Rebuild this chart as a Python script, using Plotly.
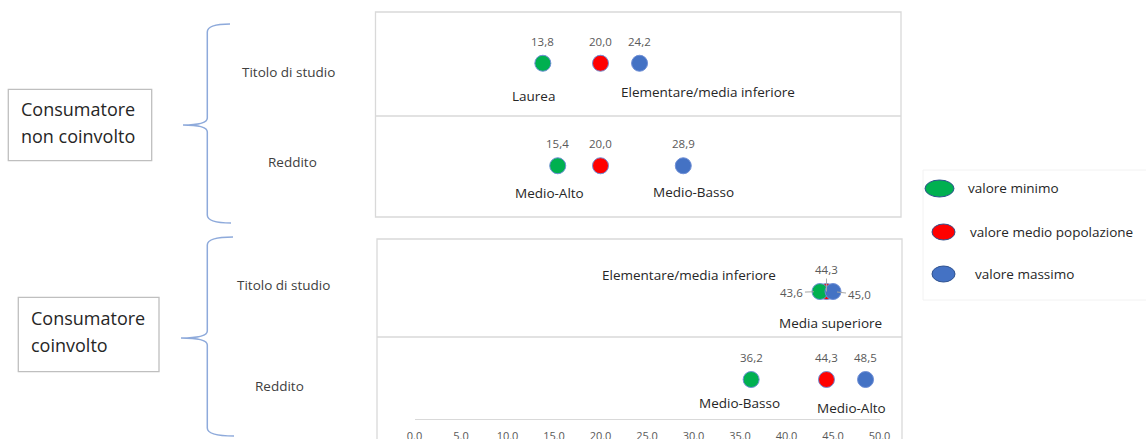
import plotly.graph_objects as go

W, H = 1146, 439

# --- data -------------------------------------------------------------
groups = [["Consumatore", "non coinvolto"], ["Consumatore", "coinvolto"]]
rows = ["Titolo di studio", "Reddito"]
series = ["valore minimo", "valore medio popolazione", "valore massimo"]
colors = ["#00b050", "#ff0000", "#4472c4"]

# consumatore non coinvolto
nc_min = [13.8, 15.4]
nc_mean = [20.0, 20.0]
nc_max = [24.2, 28.9]
nc_min_lab = ["Laurea", "Medio-Alto"]
nc_max_lab = ["Elementare/media inferiore", "Medio-Basso"]

# consumatore coinvolto
c_min = [43.6, 36.2]
c_mean = [44.3, 44.3]
c_max = [45.0, 48.5]
c_min_lab = ["Elementare/media inferiore", "Medio-Basso"]
c_max_lab = ["Media superiore", "Medio-Alto"]

x_ticks = [0.0, 5.0, 10.0, 15.0, 20.0, 25.0, 30.0, 35.0, 40.0, 45.0, 50.0]

FONT = "Open Sans"
DARK = "#262626"
GREY = "#595959"
BORDER = "#d9d9d9"
BRACE = "#8eaadb"


def px(x):
    return x / W


def py(y):
    return 1 - y / H


def fmt(v):
    return "{:.1f}".format(v).replace(".", ",")


# pixel offsets of category names / value labels (layout only)
panels = [
    dict(xa="x", ya="y", vals=[nc_min, nc_mean, nc_max], labs=[nc_min_lab, nc_max_lab],
         lab_shift=[[(-9, -33), (-8, -27)], [(68, -29), (10, -26)]],
         leaders={}),
    dict(xa="x2", ya="y2", vals=[c_min, c_mean, c_max], labs=[c_min_lab, c_max_lab],
         lab_shift=[[(-131, 17), (-12, -23)], [(-3, -31), (-14, -28)]],
         leaders={0: [(-28, 1, 6), (0, -22, 0), (26, 3, 4)]}),
]

fig = go.Figure()
annotations = []
shapes = []

for p in panels:
    # draw mean first so min / max sit on top where they overlap
    for k in [1, 0, 2]:
        fig.add_trace(go.Scatter(
            x=p["vals"][k], y=rows, xaxis=p["xa"], yaxis=p["ya"],
            mode="markers", name=series[k], showlegend=False, cliponaxis=False,
            marker=dict(size=16, color=colors[k], line=dict(color="#6f8fd6", width=1)),
            hoverinfo="x+name",
        ))
    # value labels
    for k in range(3):
        for i, r in enumerate(rows):
            v = p["vals"][k][i]
            base = dict(x=v, y=r, xref=p["xa"], yref=p["ya"], text=fmt(v),
                        font=dict(family=FONT, size=11.5, color=GREY))
            if i in p["leaders"]:
                ax, ay, so = p["leaders"][i][k]
                annotations.append(dict(base, showarrow=True, ax=ax, ay=ay, arrowhead=0,
                                        arrowwidth=1, arrowcolor="#a6a6a6", standoff=so))
            else:
                annotations.append(dict(base, showarrow=False, yshift=22,
                                        xanchor="center", yanchor="middle"))
    # category names of min / max
    for j, k in enumerate([0, 2]):
        for i, r in enumerate(rows):
            dx, dy = p["lab_shift"][j][i]
            annotations.append(dict(
                x=p["vals"][k][i], y=r, xref=p["xa"], yref=p["ya"], text=p["labs"][j][i],
                showarrow=False, xshift=dx, yshift=dy, xanchor="center", yanchor="middle",
                font=dict(family=FONT, size=13.5, color=DARK),
            ))

# panel frames
for x0, x1, y0, y1, ymid in [(375.5, 901, 12, 217, 116), (377, 902, 239, 460, 337)]:
    shapes.append(dict(type="rect", xref="paper", yref="paper", layer="below",
                       x0=px(x0), x1=px(x1), y0=py(y0), y1=py(y1),
                       line=dict(color=BORDER, width=1.3)))
    shapes.append(dict(type="line", xref="paper", yref="paper", layer="below",
                       x0=px(x0), x1=px(x1), y0=py(ymid), y1=py(ymid),
                       line=dict(color=BORDER, width=1.3)))

# row labels
for (cx, cy), r in zip([(288, 72), (292.5, 162), (283, 285), (279.5, 386)], rows * 2):
    annotations.append(dict(x=px(cx), y=py(cy), xref="paper", yref="paper", text=r,
                            showarrow=False, xanchor="center", yanchor="middle",
                            font=dict(family=FONT, size=13.5, color="#404040")))

# group boxes
for lines, (bx0, bx1, by0, by1), (tx, ty) in zip(
        groups, [(8.3, 151.7, 89.3, 160.7), (18.3, 159, 297.3, 371.7)], [(19, 109), (29, 318)]):
    shapes.append(dict(type="rect", xref="paper", yref="paper",
                       x0=px(bx0), x1=px(bx1), y0=py(by0), y1=py(by1),
                       line=dict(color="#bfbfbf", width=1.3)))
    for n, t in enumerate(lines):
        annotations.append(dict(x=px(tx), y=py(ty + 27 * n), xref="paper", yref="paper",
                                text=t, showarrow=False, xanchor="left", yanchor="middle",
                                font=dict(family=FONT, size=18, color=DARK)))


# curly braces
def brace(xt, xv, xp, ytop, ymid, ybot):
    pts = "M{},{} Q{},{} {},{} L{},{} Q{},{} {},{} Q{},{} {},{} L{},{} Q{},{} {},{}".format(
        px(xt), py(ytop), px(xv), py(ytop), px(xv), py(ytop + 8),
        px(xv), py(ymid - 7),
        px(xv), py(ymid), px(xp), py(ymid),
        px(xv), py(ymid), px(xv), py(ymid + 7),
        px(xv), py(ybot - 8),
        px(xv), py(ybot), px(xt + 1), py(ybot))
    return dict(type="path", xref="paper", yref="paper", path=pts,
                line=dict(color=BRACE, width=1.5))


shapes.append(brace(230, 207.3, 183, 24, 125, 223))
shapes.append(brace(233, 207.3, 181, 237, 338, 436))

# legend
shapes.append(dict(type="rect", xref="paper", yref="paper", layer="below",
                   x0=px(923), x1=px(1150), y0=py(170), y1=py(300),
                   line=dict(color="#f2f2f2", width=1)))
for k, ((x0, x1, y0, y1), tx) in enumerate(zip(
        [(925, 954, 180, 197), (932, 955, 224, 240), (932, 955, 266, 282)], [966, 968, 973])):
    shapes.append(dict(type="circle", xref="paper", yref="paper",
                       x0=px(x0), x1=px(x1), y0=py(y1), y1=py(y0),
                       fillcolor=colors[k], line=dict(color="#2f528f", width=1)))
    annotations.append(dict(x=px(tx), y=py((y0 + y1) / 2), xref="paper", yref="paper",
                            text=series[k], showarrow=False, xanchor="left", yanchor="middle",
                            font=dict(family=FONT, size=13.5, color=DARK)))

x_dom = [px(414.5), px(879.5)]
fig.update_layout(
    width=W, height=H, autosize=False,
    margin=dict(l=0, r=0, t=0, b=0, pad=0, autoexpand=False),
    paper_bgcolor="white", plot_bgcolor="rgba(0,0,0,0)",
    showlegend=False,
    font=dict(family=FONT, color=DARK),
    xaxis=dict(domain=x_dom, range=[0, 50], visible=False, anchor="y", automargin=False),
    yaxis=dict(domain=[py(217), py(12)], type="category", categoryarray=rows,
               range=[1.5, -0.5], visible=False, anchor="x", automargin=False),
    xaxis2=dict(domain=x_dom, range=[0, 50], anchor="free", position=py(419),
                showline=True, linecolor=BORDER, linewidth=1.3, showgrid=False, zeroline=False,
                tickvals=x_ticks, tickformat=".1f", ticks="", ticklabelstandoff=7,
                automargin=False, tickfont=dict(family=FONT, size=11, color=GREY)),
    yaxis2=dict(domain=[0, py(239)], type="category", categoryarray=rows,
                range=[1.676, -0.597], visible=False, anchor="x2", automargin=False),
    annotations=annotations,
    shapes=shapes,
)

# page without body margin so the figure fills the window exactly
fig.write_html("out.html", config={"displayModeBar": False},
               post_script="document.body.style.margin='0';document.body.style.overflow='hidden';")
